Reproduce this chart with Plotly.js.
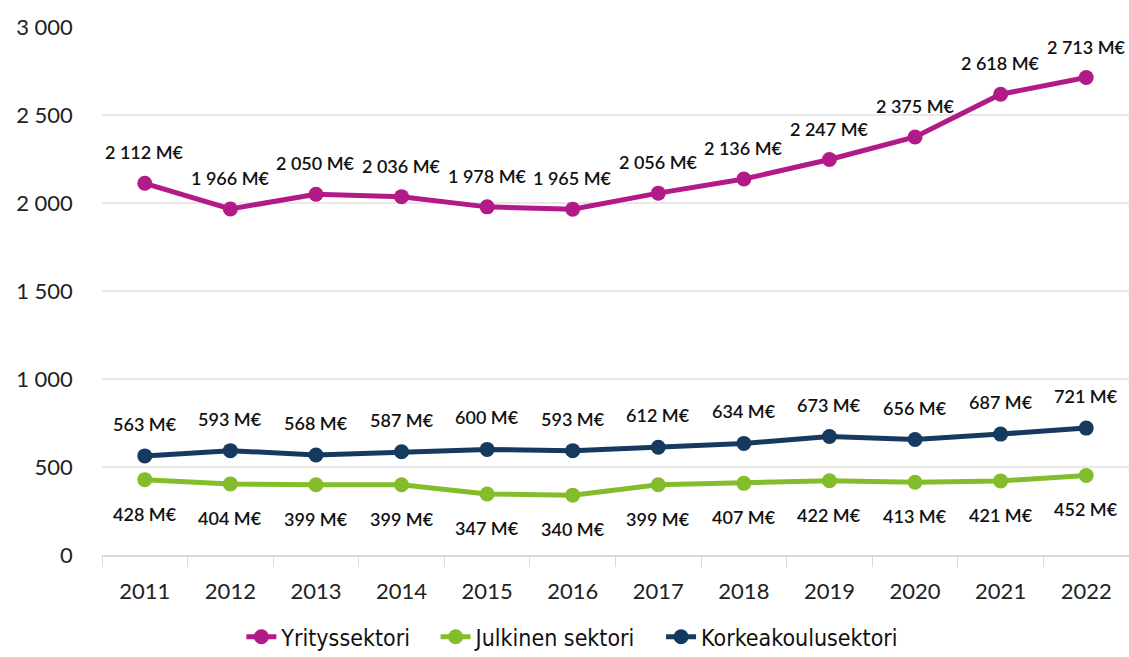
<!DOCTYPE html>
<html><head><meta charset="utf-8">
<script src="https://cdn.plot.ly/plotly-3.0.1.min.js"></script>
<style>html,body{margin:0;padding:0;background:#fff}#chart{width:1129px;height:657px}</style>
</head><body><div id="chart"></div>
<script>
const years = ['2011','2012','2013','2014','2015','2016','2017','2018','2019','2020','2021','2022'];
const yritys = [2112,1966,2050,2036,1978,1965,2056,2136,2247,2375,2618,2713];
const julkinen = [428,404,399,399,347,340,399,407,422,413,421,452];
const korkea = [563,593,568,587,600,593,612,634,673,656,687,721];
const names = ['Yrityssektori','Julkinen sektori','Korkeakoulusektori'];
const colors = ['#B21A87','#84BD2C','#163A5F'];

function fmt(v){ return String(v).replace(/\B(?=(\d{3})+(?!\d))/g,' ') + ' M€'; }

const series = [yritys, julkinen, korkea];
const shifts = [31, -34, 32];
const traces = series.map((s,i)=>({
  x: years, y: s, name: names[i] + (i < 2 ? '\u00a0\u00a0\u00a0' : ''), type:'scatter', mode:'lines+markers',
  line:{color:colors[i], width:5}, marker:{color:colors[i], size:15}
}));
const annotations = [];
series.forEach((s,i)=>{
  s.forEach((v,j)=>{
    annotations.push({x: j, y: v, xref:'x', yref:'y', text: fmt(v), showarrow:false,
      yshift: shifts[i], font:{family:'Lato, sans-serif', size:18, color:'#111', weight:600}});
  });
});
const layout = {
  width:1129, height:657,
  margin:{l:102, r:0, t:27, b:102, autoexpand:false},
  separators:', ',
  paper_bgcolor:'#fff', plot_bgcolor:'#fff',
  font:{family:'Lato, sans-serif', size:22, color:'#222'},
  xaxis:{type:'category', range:[-0.5,11.5], tickson:'boundaries', ticks:'outside', ticklen:10,
    tickcolor:'#d9d9d9', showline:true, linecolor:'#d9d9d9', linewidth:2, showgrid:false,
    tickangle:0, automargin:false, ticklabelstandoff:16, tickfont:{size:22, color:'#222'}},
  yaxis:{range:[0,3000], dtick:500, tick0:0, showgrid:true, gridcolor:'#e8e8e8', gridwidth:2,
    zeroline:false, separatethousands:true, automargin:false, ticksuffix:'     ', tickfont:{size:22, color:'#222'}},
  showlegend:true,
  legend:{orientation:'h', x:0.458, xanchor:'center', y:-0.155, yanchor:'middle',
    font:{family:'"Liberation Sans Narrow", "DejaVu Sans Condensed", sans-serif', size:23, color:'#111'}},
  annotations: annotations
};
Plotly.newPlot('chart', traces, layout, {displayModeBar:false});
</script></body></html>
